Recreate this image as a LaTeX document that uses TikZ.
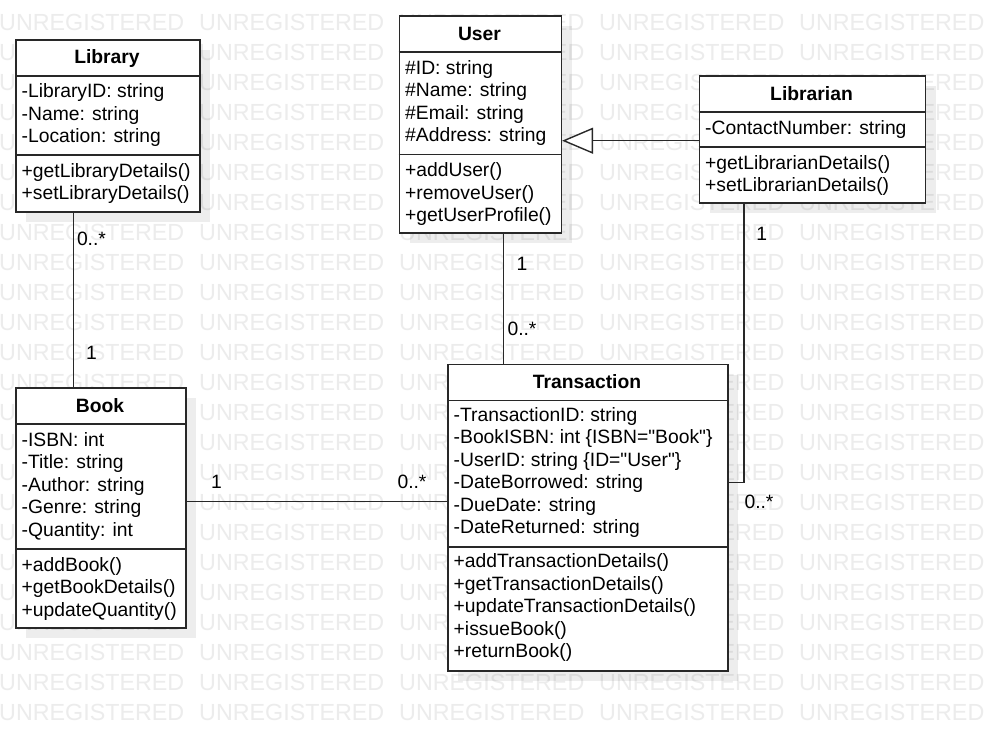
\documentclass[tikz,border=0pt]{standalone}
\usepackage{fontspec}
\setmainfont{Liberation Sans}[Ligatures=TeXOff]
\usetikzlibrary{arrows.meta}
\definecolor{wm}{RGB}{236,236,236}
\definecolor{ln}{RGB}{40,40,40}
\begin{document}
\begin{tikzpicture}[x=1pt,y=-1pt,
  cls/.style={draw=ln, line width=1.6pt, fill=white, inner sep=0pt, anchor=north west},
  shadowbox/.style={fill=black, fill opacity=0.07, draw=none, inner sep=0pt, anchor=north west},
  sep/.style={draw=ln, line width=1.6pt},
  txt/.style={anchor=base west, inner sep=0pt, font=\fontsize{19.3}{22.5}\selectfont, text=black},
  title/.style={anchor=base, inner sep=0pt, font=\bfseries\fontsize{19.3}{22.5}\selectfont, text=black},
  mult/.style={anchor=base, inner sep=0pt, font=\fontsize{19.3}{22.5}\selectfont, text=black},
  wmtext/.style={anchor=base west, inner sep=0pt, text=wm, font=\fontsize{23.3}{28}\selectfont},
  conn/.style={draw=ln, line width=1.4pt},
]
\useasboundingbox[fill=white] (0,0) rectangle (984,730);

% watermark
\foreach \k in {0,...,23}{
  \foreach \j in {0,...,4}{
    \node[wmtext] (wm-\k-\j) at (200*\j-1, 30.7+30*\k) {UNREGISTERED};
  }
}

% shadows
\node[shadowbox, minimum width=184pt, minimum height=172pt] (libsh) at (26,50) {};
\node[shadowbox, minimum width=162pt, minimum height=217pt] (usersh) at (409.5,26) {};
\node[shadowbox, minimum width=226pt, minimum height=127pt] (librsh) at (709.5,86) {};
\node[shadowbox, minimum width=170pt, minimum height=240pt] (booksh) at (26,398) {};
\node[shadowbox, minimum width=280pt, minimum height=306.5pt] (transsh) at (458,374.5) {};

% boxes
\node[cls, minimum width=184pt, minimum height=172pt] (lib) at (15,39) {};
\node[cls, minimum width=162pt, minimum height=217pt] (user) at (398.5,15) {};
\node[cls, minimum width=226pt, minimum height=127pt] (libr) at (698.5,75) {};
\node[cls, minimum width=170pt, minimum height=240pt] (book) at (15,387) {};
\node[cls, minimum width=280pt, minimum height=306.5pt] (trans) at (447,363.5) {};

% connectors
\draw[conn] (lib.south -| 73.3,0) -- (book.north -| 73.3,0);
\draw[conn] (user.south -| 503.5,0) -- (trans.north -| 503.5,0);
\draw[conn] (libr.south -| 744,0) |- (trans.east |- 0,482.3);
\draw[conn] (book.east |- 0,501.7) -- (trans.west |- 0,501.7);
\draw[conn, -{Triangle[open, length=31pt, width=26pt, fill=white, line width=1.4pt]}] (libr.west |- 0,140.7) -- (user.east |- 0,140.7);

% separators
\draw[sep] (lib.west |- 0,76) -- (lib.east |- 0,76);
\draw[sep] (lib.west |- 0,155) -- (lib.east |- 0,155);
\draw[sep] (user.west |- 0,52) -- (user.east |- 0,52);
\draw[sep] (user.west |- 0,154.5) -- (user.east |- 0,154.5);
\draw[sep] (libr.west |- 0,112) -- (libr.east |- 0,112);
\draw[sep] (libr.west |- 0,147) -- (libr.east |- 0,147);
\draw[sep] (book.west |- 0,424) -- (book.east |- 0,424);
\draw[sep] (book.west |- 0,549) -- (book.east |- 0,549);
\draw[sep] (trans.west |- 0,400.5) -- (trans.east |- 0,400.5);
\draw[sep] (trans.west |- 0,547) -- (trans.east |- 0,547);

% Library
\node[title] (libT) at (107,64) {Library};
\node[txt] (lib1) at (21.5,98) {-LibraryID: string};
\node[txt] (lib2) at (21.5,120.5) {-Name: string};
\node[txt] (lib3) at (21.5,143) {-Location: string};
\node[txt] (lib4) at (21.5,177.5) {+getLibraryDetails()};
\node[txt] (lib5) at (21.5,200) {+setLibraryDetails()};

% User
\node[title] (userT) at (479.5,40.3) {User};
\node[txt] (user1) at (405,74.3) {\#ID: string};
\node[txt] (user2) at (405,96.8) {\#Name: string};
\node[txt] (user3) at (405,119.3) {\#Email: string};
\node[txt] (user4) at (405,141.8) {\#Address: string};
\node[txt] (user5) at (405,176.7) {+addUser()};
\node[txt] (user6) at (405,199.2) {+removeUser()};
\node[txt] (user7) at (405,221.7) {+getUserProfile()};

% Librarian
\node[title] (librT) at (811.5,100.3) {Librarian};
\node[txt] (libr1) at (705,134.3) {-ContactNumber: string};
\node[txt] (libr2) at (705,169.3) {+getLibrarianDetails()};
\node[txt] (libr3) at (705,191.8) {+setLibrarianDetails()};

% Book
\node[title] (bookT) at (100,412) {Book};
\node[txt] (book1) at (21.5,446) {-ISBN: int};
\node[txt] (book2) at (21.5,468.5) {-Title: string};
\node[txt] (book3) at (21.5,491) {-Author: string};
\node[txt] (book4) at (21.5,513.5) {-Genre: string};
\node[txt] (book5) at (21.5,536) {-Quantity: int};
\node[txt] (book6) at (21.5,571) {+addBook()};
\node[txt] (book7) at (21.5,593.5) {+getBookDetails()};
\node[txt] (book8) at (21.5,616) {+updateQuantity()};

% Transaction
\node[title] (transT) at (587,388.7) {Transaction};
\node[txt] (tr1) at (453.5,421) {-TransactionID: string};
\node[txt] (tr2) at (453.5,443.5) {-BookISBN: int \{ISBN="Book"\}};
\node[txt] (tr3) at (453.5,466) {-UserID: string \{ID="User"\}};
\node[txt] (tr4) at (453.5,488.5) {-DateBorrowed: string};
\node[txt] (tr5) at (453.5,511) {-DueDate: string};
\node[txt] (tr6) at (453.5,533.5) {-DateReturned: string};
\node[txt] (tr7) at (453.5,567.7) {+addTransactionDetails()};
\node[txt] (tr8) at (453.5,590.2) {+getTransactionDetails()};
\node[txt] (tr9) at (453.5,612.7) {+updateTransactionDetails()};
\node[txt] (tr10) at (453.5,635.2) {+issueBook()};
\node[txt] (tr11) at (453.5,657.7) {+returnBook()};

% multiplicities
\node[mult] (m1) at (91.5,245) {0..*};
\node[mult] (m2) at (91.5,359) {1};
\node[mult] (m3) at (522,270) {1};
\node[mult] (m4) at (522,335) {0..*};
\node[mult] (m5) at (761.7,240.3) {1};
\node[mult] (m6) at (759,508.5) {0..*};
\node[mult] (m7) at (216.5,488.5) {1};
\node[mult] (m8) at (412,488.5) {0..*};
\end{tikzpicture}
\end{document}
